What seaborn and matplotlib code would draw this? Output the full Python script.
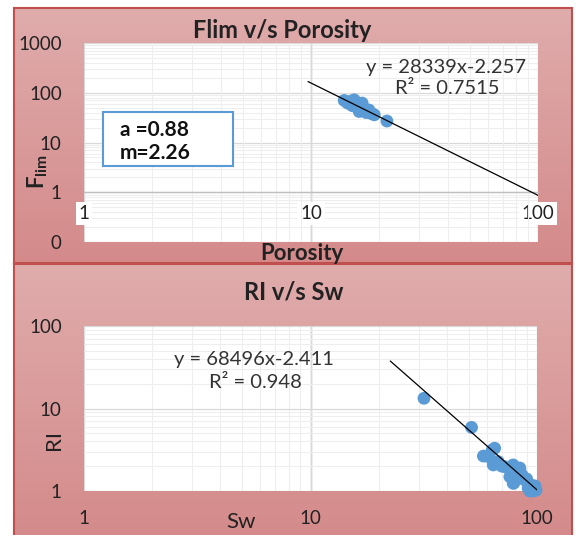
import numpy as np
import pandas as pd
import seaborn as sns
import matplotlib.pyplot as plt
from matplotlib.colors import LinearSegmentedColormap
from matplotlib.patches import Rectangle
from matplotlib.ticker import FixedLocator, FixedFormatter, LogLocator, NullFormatter

# data
por = [14.0, 14.5, 15.0, 15.5, 15.2, 16.0, 16.5, 16.3, 16.8, 17.0, 17.5, 18.0, 18.5, 19.0, 21.6]
flim = [70, 62, 68, 72, 55, 58, 52, 42, 62, 48, 40, 45, 38, 36, 27]
sw = [31.7, 51.4, 63.4, 61.2, 64.1, 67.4, 72.1, 78.5, 84.0, 75.9, 78.5, 88.3, 91.4, 94.5,
      93.0, 96.0, 58.0, 65.0, 84.0, 79.0, 70.0, 82.0, 86.0, 90.0, 97.0, 99.0, 98.0]
ri = [13.3, 5.9, 3.14, 2.6, 2.07, 2.27, 1.97, 2.07, 1.8, 1.49, 1.24, 1.36, 1.08, 1.18,
      1.0, 1.0, 2.65, 3.3, 1.9, 1.25, 2.0, 1.7, 1.55, 1.4, 1.05, 1.02, 1.15]

fit1 = (28339, -2.257)
fit1_x = (9.7, 100)
fit2 = (68496, -2.411)
fit2_x = (22.5, 100)

y1_ticks = [0.1, 1, 10, 100, 1000]
y1_labels = ["0", "1", "10", "100", "1000"]
x_ticks = [1, 10, 100]
x_labels = ["1", "10", "100"]
y2_ticks = [1, 10, 100]
y2_labels = ["1", "10", "100"]

sns.set_theme(style="white")
plt.rcParams['font.family'] = ['Lato', 'DejaVu Sans']
plt.rcParams['mathtext.fontset'] = 'custom'
plt.rcParams['mathtext.bf'] = 'Lato:bold'
plt.rcParams['mathtext.rm'] = 'Lato'

W, H = 579, 535
fig = plt.figure(figsize=(W / 100, H / 100), dpi=100)
fig.patch.set_facecolor('white')


def rect(x0, y0, x1, y1):
    return [x0 / W, 1 - y1 / H, (x1 - x0) / W, (y1 - y0) / H]


def fx(x):
    return x / W


def fy(y):
    return 1 - y / H


pink = LinearSegmentedColormap.from_list("pink", ["#E0ACAC", "#D48A8A"])
grad = np.linspace(0, 1, 256).reshape(-1, 1)

# panel backgrounds
for r, top in [(rect(14, 8, 572, 263), True), (rect(14, 264, 572, 540), False)]:
    bg = fig.add_axes(r, zorder=0)
    bg.imshow(grad, aspect='auto', cmap=pink, extent=[0, 1, 0, 1])
    bg.set_xticks([])
    bg.set_yticks([])
    for s in bg.spines.values():
        s.set_color('#C0504D')
        s.set_linewidth(1.5)
    if not top:
        bg.spines['bottom'].set_visible(False)


def style_axis(ax):
    ax.set_facecolor('white')
    ax.set_xscale('log')
    ax.set_yscale('log')
    ax.xaxis.set_minor_locator(LogLocator(base=10, subs=np.arange(2, 10)))
    ax.yaxis.set_minor_locator(LogLocator(base=10, subs=np.arange(2, 10)))
    ax.xaxis.set_minor_formatter(NullFormatter())
    ax.yaxis.set_minor_formatter(NullFormatter())
    ax.grid(which='major', color='#D9D9D9', lw=0.9)
    ax.grid(which='minor', color='#EEEEEE', lw=0.8)
    ax.tick_params(which='both', length=0, labelsize=13.5, colors='#222222')
    ax.tick_params(axis='y', pad=16)
    for s in ax.spines.values():
        s.set_visible(False)
    ax.axvline(10, color='#BFBFBF', lw=1, zorder=0.4)


# top chart
ax1 = fig.add_axes(rect(84, 43, 538, 242), zorder=1)
style_axis(ax1)
df1 = pd.DataFrame({"Porosity": por, "Flim": flim})
sns.scatterplot(data=df1, x="Porosity", y="Flim", ax=ax1, color='#5B9BD5',
                s=85, edgecolor='none', zorder=3)
xx = np.geomspace(*fit1_x, 50)
ax1.plot(xx, fit1[0] * xx ** fit1[1], color='black', lw=0.9, zorder=4)
ax1.set_xlim(1, 100)
ax1.set_ylim(0.1, 1000)
ax1.yaxis.set_major_locator(FixedLocator(y1_ticks))
ax1.yaxis.set_major_formatter(FixedFormatter(y1_labels))
ax1.xaxis.set_major_locator(FixedLocator(x_ticks))
ax1.xaxis.set_major_formatter(FixedFormatter(x_labels))
ax1.xaxis.set_zorder(0.6)
ax1.spines['bottom'].set_visible(True)
ax1.spines['bottom'].set_position(('data', 1))
ax1.spines['bottom'].set_color('#BFBFBF')
ax1.spines['bottom'].set_linewidth(1)
ax1.tick_params(axis='x', pad=9)
for lab in ax1.get_xticklabels():
    lab.set_bbox(dict(facecolor='white', edgecolor='none', pad=2))
ax1.set_xlabel('')
ax1.set_ylabel('')

fig.text(fx(282), fy(30), "Flim v/s Porosity", ha='center', va='center',
         fontsize=17, fontweight='bold', color='#222222')
fig.text(fx(302), fy(253), "Porosity", ha='center', va='center',
         fontsize=16, fontweight='bold', color='#222222')
fig.text(fx(38), fy(172), r"$\mathbf{F_{lim}}$", ha='center', va='center',
         fontsize=16, rotation=90, color='#222222')
fig.text(fx(446), fy(67), "y = 28339x-2.257", ha='center', va='center',
         fontsize=14.5, color='#333333')
fig.text(fx(447), fy(88), "R\u00b2 = 0.7515", ha='center', va='center',
         fontsize=14.5, color='#333333')

fig.patches.append(Rectangle((fx(103), fy(166)), fx(233) - fx(103), fy(112) - fy(166),
                             transform=fig.transFigure, facecolor='white',
                             edgecolor='#5B9BD5', lw=1.5, zorder=5))
fig.text(fx(120), fy(130), "a =0.88", ha='left', va='center', fontsize=15,
         fontweight='bold', color='#111111', zorder=6)
fig.text(fx(120), fy(153), "m=2.26", ha='left', va='center', fontsize=15,
         fontweight='bold', color='#111111', zorder=6)

# bottom chart
ax2 = fig.add_axes(rect(84, 326, 537, 491), zorder=1)
style_axis(ax2)
df2 = pd.DataFrame({"Sw": sw, "RI": ri})
sns.scatterplot(data=df2, x="Sw", y="RI", ax=ax2, color='#5B9BD5',
                s=85, edgecolor='none', zorder=3, clip_on=False)
xx = np.geomspace(*fit2_x, 50)
ax2.plot(xx, fit2[0] * xx ** fit2[1], color='black', lw=0.9, zorder=4)
ax2.set_xlim(1, 100)
ax2.set_ylim(1, 100)
ax2.yaxis.set_major_locator(FixedLocator(y2_ticks))
ax2.yaxis.set_major_formatter(FixedFormatter(y2_labels))
ax2.xaxis.set_major_locator(FixedLocator(x_ticks))
ax2.xaxis.set_major_formatter(FixedFormatter(x_labels))
ax2.tick_params(axis='x', pad=14)
ax2.set_xlabel('')
ax2.set_ylabel('')

fig.text(fx(294), fy(292), "RI v/s Sw", ha='center', va='center',
         fontsize=17, fontweight='bold', color='#222222')
fig.text(fx(241), fy(522), "Sw", ha='center', va='center',
         fontsize=16, color='#222222')
fig.text(fx(54), fy(440), "RI", ha='center', va='center',
         fontsize=16, rotation=90, color='#222222')
fig.text(fx(254), fy(360), "y = 68496x-2.411", ha='center', va='center',
         fontsize=14.5, color='#333333')
fig.text(fx(255), fy(382), "R\u00b2 = 0.948", ha='center', va='center',
         fontsize=14.5, color='#333333')

fig.savefig("out.png", dpi=100)
